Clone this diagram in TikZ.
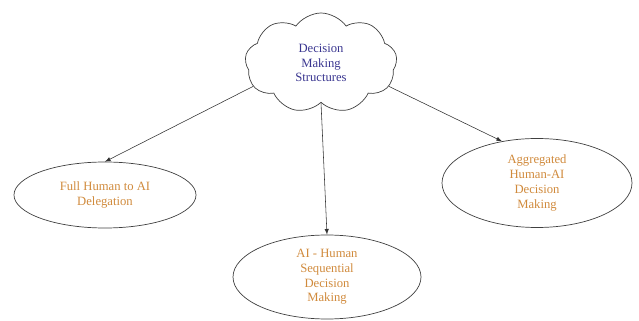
\documentclass[tikz,border=0pt]{standalone}
\usepackage{fontspec}
\setmainfont{Liberation Serif}
\usetikzlibrary{shapes.symbols, shapes.geometric}

\definecolor{topblue}{HTML}{3A3690}
\definecolor{leaforange}{HTML}{D08A3C}

\begin{document}
\begin{tikzpicture}[font=\fontsize{9}{10.5}\selectfont]
        \useasboundingbox (0,0) rectangle (15.975,8);

        \node[draw=black!75, line width=0.5pt, cloud, cloud puffs=9, cloud puff arc=110, aspect=1.5, minimum width=3.8cm, minimum height=2.5cm, inner sep=0pt, text=topblue, align=center] at (8.025,6.425) (dms) {Decision\\Making\\Structures};

        \node[draw=black!75, line width=0.5pt, ellipse, minimum width=4.55cm, minimum height=1.65cm, inner sep=0pt, text=leaforange, align=center] at (2.625,3.125) (full) {Full Human to AI\\Delegation};
        \node[draw=black!75, line width=0.5pt, ellipse, minimum width=4.7cm, minimum height=2.1cm, inner sep=0pt, text=leaforange, align=center] at (8.175,1.075) (seq) {AI - Human\\Sequential\\Decision\\Making};
        \node[draw=black!75, line width=0.5pt, ellipse, minimum width=4.75cm, minimum height=2.225cm, inner sep=0pt, text=leaforange, align=center] at (13.425,3.425) (agg) {Aggregated\\Human-AI\\Decision\\Making};

        \draw[-latex, black!80] (dms.199) -- (full.north);
        \draw[-latex, black!80] (dms.south) -- (seq.north);
        \draw[-latex, black!80] (dms.341) -- (agg.130);
    \end{tikzpicture}
\end{document}
